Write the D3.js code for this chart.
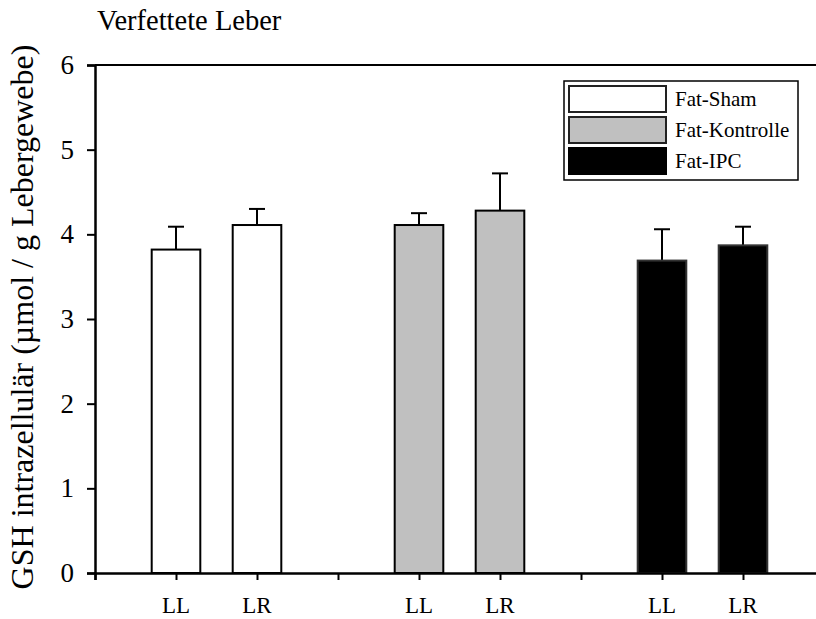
<!DOCTYPE html>
<html>
<head>
<meta charset="utf-8">
<script src="https://cdn.jsdelivr.net/npm/d3@7"></script>
<style>
  body { margin: 0; background: #fff; }
  text { font-family: "Liberation Serif", "DejaVu Serif", serif; }
</style>
</head>
<body>
<svg id="chart" width="816" height="619"></svg>
<script>
// data
const groups = ["Fat-Sham", "Fat-Kontrolle", "Fat-IPC"];
const lobes = ["LL", "LR"];
const means = [[3.82, 4.11], [4.11, 4.28], [3.69, 3.87]];
const errors = [[0.27, 0.19], [0.14, 0.44], [0.37, 0.22]];
const yTicks = [0, 1, 2, 3, 4, 5, 6];
const fills = ["#ffffff", "#c0c0c0", "#000000"];

const svg = d3.select("#chart");

// 9 slots along x, each group takes 3 (two bars + a gap)
const x = d3.scaleLinear().domain([0, 9]).range([95, 824]);
const y = d3.scaleLinear().domain([0, 6]).range([573, 65]);
const barW = 0.6;

// flatten for drawing
const bars = [];
groups.forEach((g, gi) => {
  lobes.forEach((l, li) => {
    bars.push({ group: g, gi: gi, lobe: l, pos: gi * 3 + li + 1, mean: means[gi][li], err: errors[gi][li] });
  });
});

// title
svg.append("text")
  .attr("x", 97).attr("y", 30)
  .attr("font-size", 28.5)
  .text("Verfettete Leber");

// y label
svg.append("text")
  .attr("transform", "translate(33," + (y(3) - 2) + ") rotate(-90)")
  .attr("text-anchor", "middle")
  .attr("font-size", 32)
  .text("GSH intrazellulär (µmol / g Lebergewebe)");

// error bars (only upward) behind bars
svg.append("g")
  .selectAll("g")
  .data(bars)
  .join("g")
  .each(function(d) {
    const g = d3.select(this);
    g.append("line")
      .attr("x1", x(d.pos)).attr("x2", x(d.pos))
      .attr("y1", y(d.mean)).attr("y2", y(d.mean + d.err))
      .attr("stroke", "#000").attr("stroke-width", 2);
    g.append("line")
      .attr("x1", x(d.pos) - 8).attr("x2", x(d.pos) + 8)
      .attr("y1", y(d.mean + d.err)).attr("y2", y(d.mean + d.err))
      .attr("stroke", "#000").attr("stroke-width", 2);
  });

// bars
svg.append("g")
  .selectAll("rect")
  .data(bars)
  .join("rect")
  .attr("x", d => x(d.pos - barW / 2))
  .attr("width", d => x(d.pos + barW / 2) - x(d.pos - barW / 2))
  .attr("y", d => y(d.mean))
  .attr("height", d => y(0) - y(d.mean))
  .attr("fill", d => fills[d.gi])
  .attr("stroke", d => d.gi == 2 ? "#333" : "#000")
  .attr("stroke-width", 2);

// top frame line
svg.append("line")
  .attr("x1", x(0)).attr("x2", x(9))
  .attr("y1", y(6)).attr("y2", y(6))
  .attr("stroke", "#000").attr("stroke-width", 2);

// Y axis
const yAxis = d3.axisLeft(y).tickValues(yTicks).tickSize(8).tickPadding(13).tickFormat(d3.format("d"));
const yg = svg.append("g")
  .attr("transform", "translate(" + x(0) + ",0)")
  .call(yAxis);
yg.select(".domain").attr("stroke-width", 2.5);
yg.selectAll(".tick line").attr("stroke-width", 2);
yg.selectAll(".tick text").attr("font-size", 27).attr("font-family", "Liberation Serif").attr("fill", "#000");

// X axis, ticks every slot, labels under the bars
const xAxis = d3.axisBottom(x).tickValues(d3.range(0, 10)).tickSize(7).tickFormat("");
const xg = svg.append("g")
  .attr("transform", "translate(0," + y(0) + ")")
  .call(xAxis);
xg.select(".domain").attr("stroke-width", 2.5);
xg.selectAll(".tick line").attr("stroke-width", 2);

svg.append("g")
  .selectAll("text")
  .data(bars)
  .join("text")
  .attr("x", d => x(d.pos))
  .attr("y", 613)
  .attr("text-anchor", "middle")
  .attr("font-size", 23)
  .text(d => d.lobe);

// legend
const legend = svg.append("g");
legend.append("rect")
  .attr("x", 564).attr("y", 81)
  .attr("width", 234).attr("height", 99)
  .attr("fill", "#fff").attr("stroke", "#000").attr("stroke-width", 1.5);

const items = legend.selectAll("g")
  .data(groups)
  .join("g")
  .attr("transform", (d, i) => "translate(0," + (85 + i * 31) + ")");
items.append("rect")
  .attr("x", 569).attr("y", 1)
  .attr("width", 97).attr("height", 26)
  .attr("fill", (d, i) => fills[i])
  .attr("stroke", (d, i) => i == 2 ? "#000" : "#222")
  .attr("stroke-width", 2);
items.append("text")
  .attr("x", 675).attr("y", 21)
  .attr("font-size", 21)
  .text(d => d);
</script>
</body>
</html>
